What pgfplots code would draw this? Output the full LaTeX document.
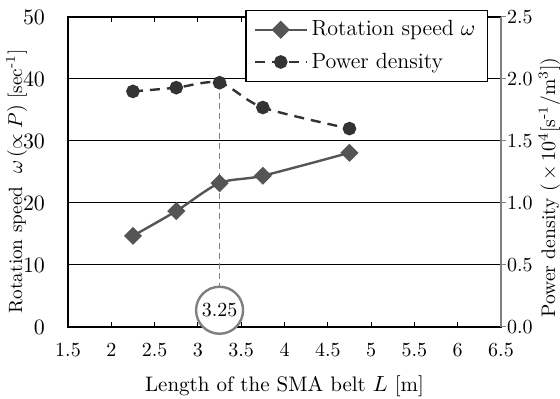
\documentclass[border=0pt]{standalone}
\usepackage{pgfplots}
\pgfplotsset{compat=1.18}
\definecolor{rotc}{HTML}{555555}
\definecolor{powc}{HTML}{333333}
\begin{document}
\begin{tikzpicture}
\pgfplotsset{
  rotstyle/.style={rotc, line width=1.2pt, smooth, mark=square*, mark size=2.6pt, mark options={rotate=45, solid, fill=rotc}},
  powstyle/.style={powc, line width=1.2pt, smooth, dash pattern=on 5pt off 3.5pt, mark=*, mark size=2.8pt, mark options={solid, fill=powc}},
}
\begin{axis}[name=ax, width=216.5pt, height=155pt, scale only axis,
  xmin=1.5, xmax=6.5, ymin=0, ymax=50,
  xtick={1.5,2,...,6.5}, ytick={0,10,...,50},
  xticklabel style={/pgf/number format/fixed, font=\fontsize{10}{12}\selectfont, yshift=-5pt},
  yticklabel style={font=\fontsize{10.5}{12}\selectfont, xshift=-8pt},
  tick align=inside, major tick length=2.5pt,
  ytick style={draw=none},
  xtick style={black, line width=0.5pt},
  ymajorgrids, grid style={black, line width=0.5pt},
  axis line style={black, line width=0.6pt},
  clip=false,
  xlabel={Length of the SMA belt $L$ [m]},
  ylabel={Rotation speed \ $\omega\,(\propto P)$ [sec\textsuperscript{-1}]},
  xlabel style={font=\fontsize{10.5}{12}\selectfont, yshift=-2.5pt},
  ylabel style={font=\fontsize{9.6}{12}\selectfont, at={(axis description cs:-0.106,0.47)}, anchor=base},
]
\addplot[rotstyle] coordinates {(2.25,14.7) (2.75,18.7) (3.25,23.2) (3.75,24.4) (4.75,28.1)};
\draw[gray, line width=0.6pt, dash pattern=on 3pt off 2pt] (axis cs:3.25,39.3) -- (axis cs:3.25,6.5);
\node[circle, draw=gray, fill=white, line width=1.2pt, minimum size=23.5pt, inner sep=0pt, font=\fontsize{10}{12}\selectfont] at (axis cs:3.25,2.7) {3.25};
\end{axis}
\begin{axis}[width=216.5pt, height=155pt, scale only axis,
  xmin=1.5, xmax=6.5, ymin=0, ymax=2.5,
  axis x line=none, axis y line*=right,
  ytick={0,0.5,...,2.5},
  yticklabel style={/pgf/number format/fixed, /pgf/number format/fixed zerofill, /pgf/number format/precision=1, font=\fontsize{10}{12}\selectfont, xshift=-3pt},
  tick align=outside, major tick length=2.5pt,
  ytick style={gray, line width=0.5pt},
  y axis line style={gray, line width=0.6pt},
  ylabel={Power density (\,$\times\,10^4$[s\textsuperscript{-1}/m\textsuperscript{3}])},
  ylabel style={font=\fontsize{9.8}{12}\selectfont, at={(axis description cs:1.1247,0.45)}, anchor=base},
  legend style={at={(0.97,1.0226)}, anchor=north east, draw=black, line width=0.6pt, fill=white,
    font=\fontsize{11}{13}\selectfont, row sep=3pt, inner xsep=4pt, inner ysep=3pt},
  legend cell align=left,
  legend image code/.code={
    \draw[#1, mark repeat=2, mark phase=2] plot coordinates {(0cm,0cm) (0.45cm,0cm) (0.9cm,0cm)};
  },
]
\addlegendimage{rotstyle}
\addlegendentry{Rotation speed $\omega$}
\addplot[powstyle] coordinates {(2.25,1.90) (2.75,1.93) (3.25,1.97) (3.75,1.77) (4.75,1.60)};
\addlegendentry{Power density}
\end{axis}
\pgfresetboundingbox
\path ([xshift=-34pt,yshift=-36pt]ax.south west) rectangle ([xshift=29.5pt,yshift=8.5pt]ax.north east);
\end{tikzpicture}
\end{document}
